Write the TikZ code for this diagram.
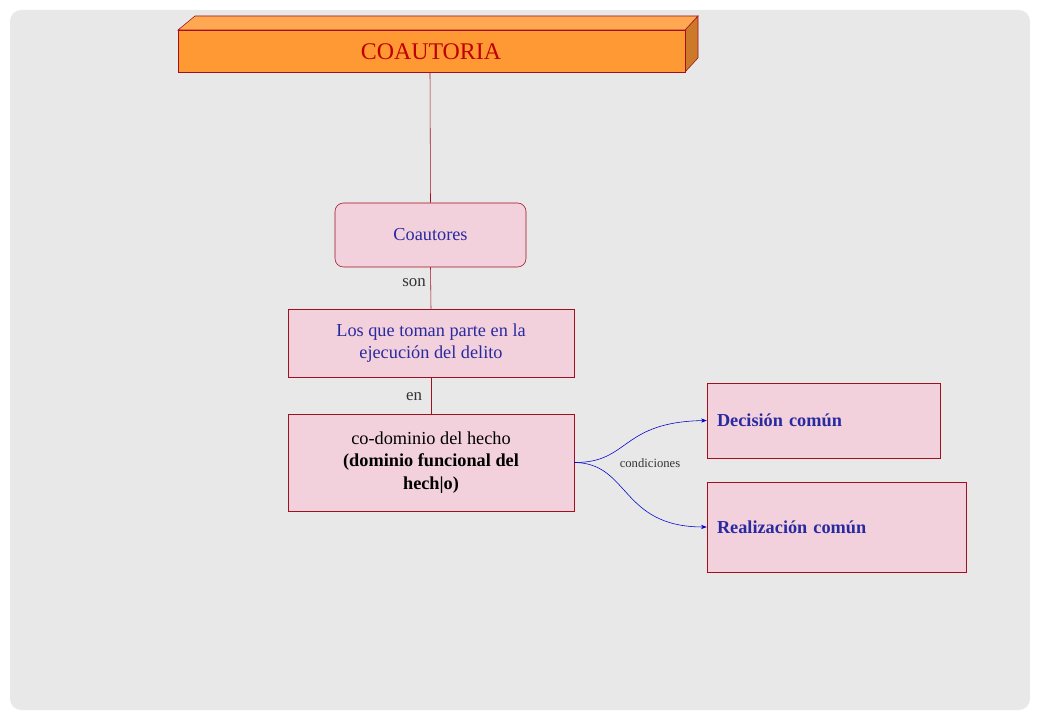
\documentclass[tikz,border=0pt]{standalone}
\usepackage{fontspec}
\setmainfont{Liberation Serif}
\usetikzlibrary{positioning}
\usetikzlibrary{arrows.meta}
\definecolor{boxfill}{HTML}{F2D0DC}
\definecolor{boxline}{HTML}{A01020}
\definecolor{txtblue}{HTML}{2A2AA0}
\definecolor{orng}{HTML}{FF9933}
\begin{document}
\begin{tikzpicture}[x=0.025cm,y=-0.025cm,
    concept/.style={draw=boxline,fill=boxfill,text=txtblue,font=\fontsize{13}{16}\selectfont,align=center,inner sep=0pt},
    link/.style={draw=boxline},
    rel/.style={draw=blue!80!black,-{Stealth[length=4pt]}},
    lbl/.style={font=\fontsize{12}{14}\selectfont,text=black!80}]
    \useasboundingbox (0,0) rectangle (1040,720);
    \fill[gray!18,rounded corners=8pt] (10,10) rectangle (1030,710);
    % title box
    \fill[orng!80!black,draw=boxline] (685,30) -- (698,16) -- (698,58) -- (685,72) -- cycle;
    \fill[orng!85!white,draw=boxline] (178,30) -- (195,16) -- (698,16) -- (685,30) -- cycle;
    \node[draw=boxline,fill=orng,minimum width=507\pgflinewidth,inner sep=0pt,
          text=red!75!black,font=\fontsize{17}{20}\selectfont] (title) at (431.5,51)
          {\makebox[0pt]{COAUTORIA}};
    \path[draw=boxline,fill=orng] (178,30) rectangle (685,72);
    \node[text=red!75!black,font=\fontsize{17}{20}\selectfont] (titletext) at (431,52) {COAUTORIA};
    \coordinate (tb) at (430,72);
    % concepts
    \node[concept,rounded corners=6pt,minimum width=191*0.025cm,minimum height=64*0.025cm] (coa) at (430.5,235) {Coautores};
    \node[concept,minimum width=286*0.025cm,minimum height=68*0.025cm] (los) at (431,343)
        {Los que toman parte en la\\ejecución del delito};
    \node[concept,text=black,minimum width=286*0.025cm,minimum height=97*0.025cm] (codom) at (431,462.5)
        {co-dominio del hecho\\\textbf{(dominio funcional del}\\\textbf{hech|o)}};
    \node[concept,font=\bfseries\fontsize{13}{16}\selectfont,text width=213*0.025cm,align=left,
          minimum width=233*0.025cm,minimum height=75*0.025cm,inner xsep=10*0.025cm] (dec) at (823.5,420.5)
        {Decisión común};
    \node[concept,font=\bfseries\fontsize{13}{16}\selectfont,text width=239*0.025cm,align=left,
          minimum width=259*0.025cm,minimum height=90*0.025cm,inner xsep=10*0.025cm] (real) at (836.5,527)
        {Realización común};
    % links
    \draw[link] (tb) -- (coa.north);
    \draw[link] (coa.south) -- (los.north);
    \draw[link] (los.south) -- (codom.north);
    \node[lbl] (son) at (414,283) {son};
    \node[lbl] (en) at (414,397) {en};
    \draw[rel] (codom.east) .. controls (630,463) and (620,422) .. (dec.west);
    \draw[rel] (codom.east) .. controls (630,463) and (620,527) .. (real.west);
    \node[font=\fontsize{9}{11}\selectfont,text=black!80] (cond) at (650,463) {condiciones};
\end{tikzpicture}
\end{document}
